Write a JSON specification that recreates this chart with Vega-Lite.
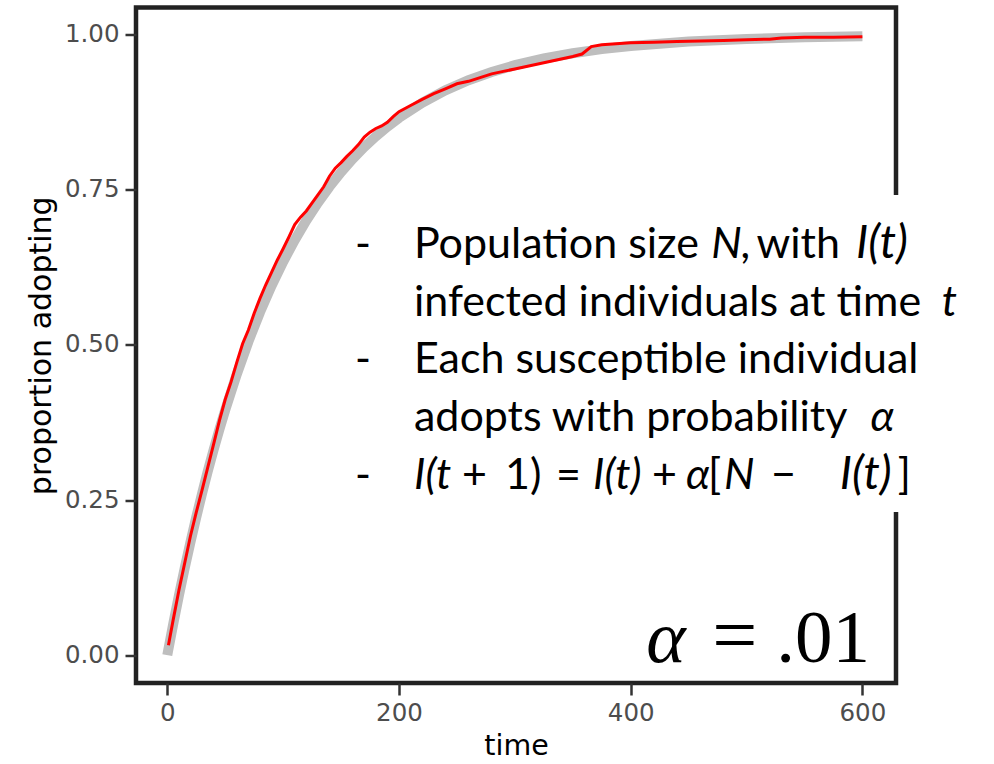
{
  "$schema": "https://vega.github.io/schema/vega-lite/v6.json",
  "autosize": {"type": "none"},
  "width": 760,
  "height": 675.5,
  "padding": {"left": 136, "top": 7.5, "right": 98, "bottom": 81},
  "background": "white",
  "config": {
    "view": {"stroke": "#222222", "strokeWidth": 4.5},
    "axis": {
      "domain": false,
      "grid": false,
      "tickColor": "#333333",
      "tickWidth": 2.5,
      "labelFont": "DejaVu Sans",
      "labelFontSize": 24.5,
      "labelColor": "#4d4d4d",
      "labelPadding": 6,
      "titleFont": "DejaVu Sans",
      "titleFontWeight": "normal",
      "titleColor": "#000000"
    },
    "text": {"font": "Lato", "fontSize": 43, "align": "left", "baseline": "alphabetic", "color": "black"}
  },
  "data": {"values": [{}]},
  "datasets": {
    "theory": [
      {"t": 0, "p": 0.0}, {"t": 5, "p": 0.049}, {"t": 10, "p": 0.0956}, {"t": 15, "p": 0.1399},
      {"t": 20, "p": 0.1821}, {"t": 25, "p": 0.2222}, {"t": 30, "p": 0.2603}, {"t": 35, "p": 0.2966},
      {"t": 40, "p": 0.331}, {"t": 45, "p": 0.3638}, {"t": 50, "p": 0.395}, {"t": 60, "p": 0.4528},
      {"t": 70, "p": 0.5052}, {"t": 80, "p": 0.5525}, {"t": 90, "p": 0.5953}, {"t": 100, "p": 0.634},
      {"t": 110, "p": 0.669}, {"t": 120, "p": 0.7006}, {"t": 130, "p": 0.7292}, {"t": 140, "p": 0.7551},
      {"t": 150, "p": 0.7786}, {"t": 160, "p": 0.7997}, {"t": 170, "p": 0.8189}, {"t": 180, "p": 0.8362},
      {"t": 190, "p": 0.8519}, {"t": 200, "p": 0.866}, {"t": 220, "p": 0.8904}, {"t": 240, "p": 0.9104},
      {"t": 260, "p": 0.9267}, {"t": 280, "p": 0.94}, {"t": 300, "p": 0.951}, {"t": 325, "p": 0.9618},
      {"t": 350, "p": 0.9703}, {"t": 375, "p": 0.9769}, {"t": 400, "p": 0.982}, {"t": 450, "p": 0.9891},
      {"t": 500, "p": 0.9934}, {"t": 550, "p": 0.996}, {"t": 600, "p": 0.9976}
    ],
    "sim": [
      {"t": 1, "p": 0.016}, {"t": 5, "p": 0.056}, {"t": 10, "p": 0.104}, {"t": 15, "p": 0.148},
      {"t": 20, "p": 0.192}, {"t": 25, "p": 0.23}, {"t": 30, "p": 0.266}, {"t": 35, "p": 0.303},
      {"t": 40, "p": 0.34}, {"t": 45, "p": 0.378}, {"t": 50, "p": 0.412}, {"t": 55, "p": 0.44},
      {"t": 60, "p": 0.472}, {"t": 65, "p": 0.502}, {"t": 70, "p": 0.524}, {"t": 75, "p": 0.551},
      {"t": 80, "p": 0.575}, {"t": 85, "p": 0.597}, {"t": 90, "p": 0.617}, {"t": 95, "p": 0.637},
      {"t": 100, "p": 0.655}, {"t": 105, "p": 0.674}, {"t": 110, "p": 0.694}, {"t": 115, "p": 0.706},
      {"t": 120, "p": 0.716}, {"t": 125, "p": 0.729}, {"t": 130, "p": 0.742}, {"t": 135, "p": 0.755},
      {"t": 140, "p": 0.772}, {"t": 145, "p": 0.785}, {"t": 150, "p": 0.794}, {"t": 155, "p": 0.804},
      {"t": 160, "p": 0.813}, {"t": 165, "p": 0.823}, {"t": 170, "p": 0.835}, {"t": 175, "p": 0.843},
      {"t": 180, "p": 0.849}, {"t": 185, "p": 0.853}, {"t": 190, "p": 0.859}, {"t": 195, "p": 0.868},
      {"t": 200, "p": 0.876}, {"t": 210, "p": 0.886}, {"t": 220, "p": 0.896}, {"t": 230, "p": 0.905},
      {"t": 240, "p": 0.913}, {"t": 250, "p": 0.921}, {"t": 260, "p": 0.925}, {"t": 270, "p": 0.931},
      {"t": 280, "p": 0.937}, {"t": 290, "p": 0.941}, {"t": 300, "p": 0.945}, {"t": 310, "p": 0.949},
      {"t": 320, "p": 0.953}, {"t": 330, "p": 0.957}, {"t": 340, "p": 0.961}, {"t": 350, "p": 0.965},
      {"t": 358, "p": 0.969}, {"t": 366, "p": 0.981}, {"t": 375, "p": 0.984}, {"t": 400, "p": 0.987},
      {"t": 420, "p": 0.988}, {"t": 440, "p": 0.989}, {"t": 460, "p": 0.99}, {"t": 480, "p": 0.991},
      {"t": 500, "p": 0.992}, {"t": 520, "p": 0.993}, {"t": 530, "p": 0.995}, {"t": 550, "p": 0.996},
      {"t": 575, "p": 0.996}, {"t": 600, "p": 0.997}
    ]
  },
  "layer": [
    {
      "data": {"name": "theory"},
      "mark": {"type": "line", "color": "#bebebe", "strokeWidth": 10, "strokeCap": "butt"},
      "encoding": {
        "x": {"field": "t", "type": "quantitative", "title": "time",
              "scale": {"domain": [-27, 629], "nice": false, "zero": false},
              "axis": {"values": [0, 200, 400, 600], "tickSize": 12, "titleFontSize": 28.5, "titlePadding": 7}},
        "y": {"field": "p", "type": "quantitative", "title": "proportion adopting",
              "scale": {"domain": [-0.045, 1.044], "nice": false, "zero": false},
              "axis": {"values": [0, 0.25, 0.5, 0.75, 1], "format": ".2f", "tickSize": 11, "titleFontSize": 30, "titlePadding": 8}}
      }
    },
    {
      "data": {"name": "sim"},
      "mark": {"type": "line", "color": "#ff0000", "strokeWidth": 3},
      "encoding": {
        "x": {"field": "t", "type": "quantitative", "title": "time"},
        "y": {"field": "p", "type": "quantitative", "title": "proportion adopting"}
      }
    },
    {
      "mark": {"type": "rect", "color": "white", "clip": false},
      "encoding": {
        "x": {"datum": 153.4, "type": "quantitative", "title": "time"},
        "x2": {"datum": 692.9},
        "y": {"datum": 0.2307, "type": "quantitative", "title": "proportion adopting"},
        "y2": {"datum": 0.7417}
      }
    },
    {"mark": {"type": "text", "text": "-"},
     "encoding": {"x": {"datum": 162.0, "type": "quantitative", "title": "time"}, "y": {"datum": 0.6402, "type": "quantitative", "title": "proportion adopting"}}},
    {"mark": {"type": "text", "text": "Population size"},
     "encoding": {"x": {"datum": 212.9, "type": "quantitative", "title": "time"}, "y": {"datum": 0.6402, "type": "quantitative", "title": "proportion adopting"}}},
    {"mark": {"type": "text", "text": "N,", "fontStyle": "italic"},
     "encoding": {"x": {"datum": 469.5, "type": "quantitative", "title": "time"}, "y": {"datum": 0.6402, "type": "quantitative", "title": "proportion adopting"}}},
    {"mark": {"type": "text", "text": "with"},
     "encoding": {"x": {"datum": 508.5, "type": "quantitative", "title": "time"}, "y": {"datum": 0.6402, "type": "quantitative", "title": "proportion adopting"}}},
    {"mark": {"type": "text", "text": "I(t)", "fontStyle": "italic", "fontSize": 46},
     "encoding": {"x": {"datum": 594.5, "type": "quantitative", "title": "time"}, "y": {"datum": 0.6402, "type": "quantitative", "title": "proportion adopting"}}},
    {"mark": {"type": "text", "text": "infected individuals at time"},
     "encoding": {"x": {"datum": 212.9, "type": "quantitative", "title": "time"}, "y": {"datum": 0.5467, "type": "quantitative", "title": "proportion adopting"}}},
    {"mark": {"type": "text", "text": "t", "fontStyle": "italic"},
     "encoding": {"x": {"datum": 668.5, "type": "quantitative", "title": "time"}, "y": {"datum": 0.5467, "type": "quantitative", "title": "proportion adopting"}}},
    {"mark": {"type": "text", "text": "-"},
     "encoding": {"x": {"datum": 162.0, "type": "quantitative", "title": "time"}, "y": {"datum": 0.4548, "type": "quantitative", "title": "proportion adopting"}}},
    {"mark": {"type": "text", "text": "Each susceptible individual"},
     "encoding": {"x": {"datum": 212.9, "type": "quantitative", "title": "time"}, "y": {"datum": 0.4548, "type": "quantitative", "title": "proportion adopting"}}},
    {"mark": {"type": "text", "text": "adopts with probability"},
     "encoding": {"x": {"datum": 212.9, "type": "quantitative", "title": "time"}, "y": {"datum": 0.3613, "type": "quantitative", "title": "proportion adopting"}}},
    {"mark": {"type": "text", "text": "α", "fontStyle": "italic"},
     "encoding": {"x": {"datum": 607.0, "type": "quantitative", "title": "time"}, "y": {"datum": 0.3613, "type": "quantitative", "title": "proportion adopting"}}},
    {"mark": {"type": "text", "text": "-"},
     "encoding": {"x": {"datum": 162.0, "type": "quantitative", "title": "time"}, "y": {"datum": 0.2678, "type": "quantitative", "title": "proportion adopting"}}},
    {"mark": {"type": "text", "text": "I(t", "fontStyle": "italic"},
     "encoding": {"x": {"datum": 212.9, "type": "quantitative", "title": "time"}, "y": {"datum": 0.2678, "type": "quantitative", "title": "proportion adopting"}}},
    {"mark": {"type": "text", "text": "+"},
     "encoding": {"x": {"datum": 254.4, "type": "quantitative", "title": "time"}, "y": {"datum": 0.2678, "type": "quantitative", "title": "proportion adopting"}}},
    {"mark": {"type": "text", "text": "1)"},
     "encoding": {"x": {"datum": 291.6, "type": "quantitative", "title": "time"}, "y": {"datum": 0.2678, "type": "quantitative", "title": "proportion adopting"}}},
    {"mark": {"type": "text", "text": "="},
     "encoding": {"x": {"datum": 335.5, "type": "quantitative", "title": "time"}, "y": {"datum": 0.2678, "type": "quantitative", "title": "proportion adopting"}}},
    {"mark": {"type": "text", "text": "I(t)", "fontStyle": "italic"},
     "encoding": {"x": {"datum": 367.5, "type": "quantitative", "title": "time"}, "y": {"datum": 0.2678, "type": "quantitative", "title": "proportion adopting"}}},
    {"mark": {"type": "text", "text": "+"},
     "encoding": {"x": {"datum": 418.4, "type": "quantitative", "title": "time"}, "y": {"datum": 0.2678, "type": "quantitative", "title": "proportion adopting"}}},
    {"mark": {"type": "text", "text": "α", "fontStyle": "italic"},
     "encoding": {"x": {"datum": 447.7, "type": "quantitative", "title": "time"}, "y": {"datum": 0.2678, "type": "quantitative", "title": "proportion adopting"}}},
    {"mark": {"type": "text", "text": "["},
     "encoding": {"x": {"datum": 466.8, "type": "quantitative", "title": "time"}, "y": {"datum": 0.2678, "type": "quantitative", "title": "proportion adopting"}}},
    {"mark": {"type": "text", "text": "N", "fontStyle": "italic"},
     "encoding": {"x": {"datum": 480.5, "type": "quantitative", "title": "time"}, "y": {"datum": 0.2678, "type": "quantitative", "title": "proportion adopting"}}},
    {"mark": {"type": "text", "text": "−"},
     "encoding": {"x": {"datum": 521.1, "type": "quantitative", "title": "time"}, "y": {"datum": 0.2678, "type": "quantitative", "title": "proportion adopting"}}},
    {"mark": {"type": "text", "text": "I(t)", "fontStyle": "italic", "fontSize": 46},
     "encoding": {"x": {"datum": 580.5, "type": "quantitative", "title": "time"}, "y": {"datum": 0.2678, "type": "quantitative", "title": "proportion adopting"}}},
    {"mark": {"type": "text", "text": "]"},
     "encoding": {"x": {"datum": 630.5, "type": "quantitative", "title": "time"}, "y": {"datum": 0.2678, "type": "quantitative", "title": "proportion adopting"}}},
    {"mark": {"type": "text", "text": "α", "font": "Liberation Serif", "fontStyle": "italic", "fontSize": 75, "align": "center"},
     "encoding": {"x": {"datum": 430.5, "type": "quantitative", "title": "time"}, "y": {"datum": -0.0111, "type": "quantitative", "title": "proportion adopting"}}},
    {"mark": {"type": "text", "text": "=", "font": "Liberation Serif", "fontSize": 80, "align": "center"},
     "encoding": {"x": {"datum": 489.9, "type": "quantitative", "title": "time"}, "y": {"datum": -0.0111, "type": "quantitative", "title": "proportion adopting"}}},
    {"mark": {"type": "text", "text": ".01", "font": "Liberation Serif", "fontSize": 75, "align": "right"},
     "encoding": {"x": {"datum": 606.5, "type": "quantitative", "title": "time"}, "y": {"datum": -0.0111, "type": "quantitative", "title": "proportion adopting"}}}
  ]
}
